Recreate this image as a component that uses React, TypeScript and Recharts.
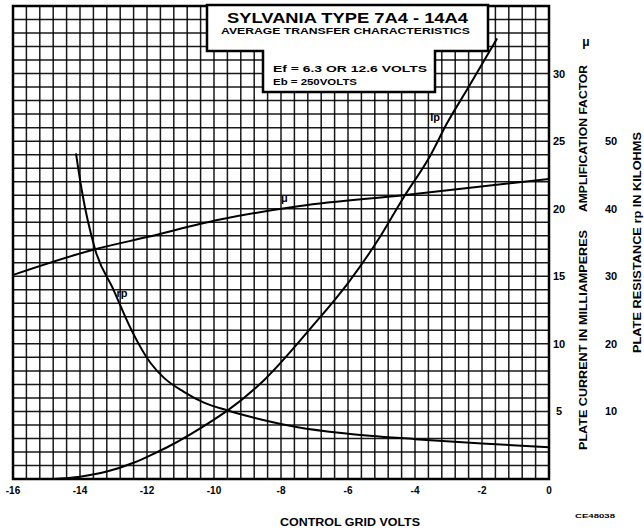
import React from 'react';
import { ComposedChart, Line, XAxis, YAxis, CartesianGrid, ReferenceArea, ReferenceDot } from 'recharts';

// grid positions (every 0.4 V and every 1 mA)
const gridVolts = Array.from({ length: 41 }, (_, i) => Math.round((-16 + 0.4 * i) * 10) / 10);
const gridMa = Array.from({ length: 36 }, (_, i) => i);

// tick labels
const voltLabels = [-16, -14, -12, -10, -8, -6, -4, -2, 0];
const maLabels = [5, 10, 15, 20, 25, 30];
const rpLabels = [10, 20, 30, 40, 50];

// plate current Ip (mA) vs grid volts
const ipVolts = [-14.8, -14.0, -13.2, -12.4, -11.9, -11.4, -10.0, -9.6, -8.5, -7.1, -6.0, -5.1, -4.35, -3.55, -3.05, -2.4, -1.55];
const ipValues = [0, 0.17, 0.55, 1.2, 1.75, 2.35, 4.4, 5.06, 7.33, 11.2, 14.5, 17.7, 20.8, 23.9, 26.3, 29.0, 32.6];

// plate resistance rp (kilohms) vs grid volts
const rpVolts = [-14.12, -13.95, -13.55, -13.0, -12.46, -11.9, -11.5, -10.9, -10.3, -9.64, -8.5, -7.5, -6.0, -4.0, -2.0, 0];
const rpValues = [48.2, 42.8, 34.0, 28.0, 22.0, 17.2, 15.0, 12.9, 11.3, 10.2, 8.7, 7.66, 6.7, 5.9, 5.24, 4.7];

// amplification factor mu vs grid volts
const muVolts = [-16, -13.55, -12, -9.82, -7.43, -4.35, 0];
const muValues = [15.1, 17.0, 17.9, 19.2, 20.2, 21.0, 22.2];

const ipData = ipVolts.map((v, i) => ({ v, y: ipValues[i] }));
const rpData = rpVolts.map((v, i) => ({ v, y: rpValues[i] }));
const muData = muVolts.map((v, i) => ({ v, y: muValues[i] }));

const FONT = '"Liberation Sans", Arial, sans-serif';

const XTick = (props: any) => {
  const { x, y, payload } = props;
  const val = payload.value;
  if (!voltLabels.some((l) => Math.abs(l - val) < 1e-6)) return <g />;
  return (
    <text x={x} y={y + 15} textAnchor="middle" fontSize={10} fontWeight="bold" fontFamily={FONT} fill="#000">
      {String(Math.round(val))}
    </text>
  );
};

const MaTick = (props: any) => {
  const { x, y, payload } = props;
  const val = payload.value;
  if (!maLabels.includes(Math.round(val)) || Math.abs(val - Math.round(val)) > 1e-6) return <g />;
  return (
    <text x={x + 10} y={y + 4} textAnchor="middle" fontSize={11} fontWeight="bold" fontFamily={FONT} fill="#000">
      {String(val)}
    </text>
  );
};

const RpTick = (props: any) => {
  const { x, y, payload } = props;
  return (
    <text x={x + 12} y={y + 4} textAnchor="middle" fontSize={11} fontWeight="bold" fontFamily={FONT} fill="#000">
      {String(payload.value)}
    </text>
  );
};

const CurveLabel = (text: string) => (props: any) => {
  const vb = props.viewBox || {};
  const cx = vb.x + (vb.width || 0) / 2;
  const cy = vb.y + (vb.height || 0) / 2;
  return (
    <text x={cx} y={cy + 4} textAnchor="middle" fontSize={11} fontWeight="bold" fontFamily={FONT} fill="#000">
      {text}
    </text>
  );
};

export default function App() {
  return (
    <div style={{ position: 'absolute', left: 0, top: 0, width: 644, height: 531, background: '#fff' }}>
      <ComposedChart width={644} height={531} margin={{ top: 6, right: 12, bottom: 22, left: 13 }}>
        <CartesianGrid yAxisId="ip" stroke="#000" strokeWidth={1.5} strokeOpacity={0.9} />
        <XAxis
          dataKey="v"
          type="number"
          domain={[-16, 0]}
          ticks={gridVolts}
          interval={0}
          allowDataOverflow
          tick={<XTick />}
          tickLine={false}
          axisLine={false}
          tickSize={0}
          tickMargin={0}
          height={30}
        />
        <YAxis
          yAxisId="ip"
          orientation="right"
          type="number"
          domain={[0, 35]}
          ticks={gridMa}
          interval={0}
          allowDataOverflow
          tick={<MaTick />}
          tickLine={false}
          axisLine={false}
          tickSize={0}
          tickMargin={0}
          width={50}
        />
        <YAxis
          yAxisId="rp"
          orientation="right"
          type="number"
          domain={[0, 70]}
          ticks={rpLabels}
          interval={0}
          allowDataOverflow
          tick={<RpTick />}
          tickLine={false}
          axisLine={false}
          tickSize={0}
          tickMargin={0}
          width={33}
        />
        <ReferenceArea yAxisId="ip" x1={-16} x2={0} y1={0} y2={35} fill="none" stroke="#000" strokeWidth={2.5} />
        <Line data={muData} dataKey="y" yAxisId="ip" type="monotone" stroke="#000" strokeWidth={2} dot={false} isAnimationActive={false} />
        <Line data={ipData} dataKey="y" yAxisId="ip" type="monotone" stroke="#000" strokeWidth={2} dot={false} isAnimationActive={false} />
        <Line data={rpData} dataKey="y" yAxisId="rp" type="monotone" stroke="#000" strokeWidth={2} dot={false} isAnimationActive={false} />
        <ReferenceDot yAxisId="ip" x={-7.9} y={20.8} r={0} stroke="none" fill="none" label={CurveLabel('μ')} />
        <ReferenceDot yAxisId="ip" x={-3.4} y={26.8} r={0} stroke="none" fill="none" label={CurveLabel('Ip')} />
        <ReferenceDot yAxisId="ip" x={-12.75} y={13.8} r={0} stroke="none" fill="none" label={CurveLabel('rp')} />
      </ComposedChart>
      <svg width={644} height={531} style={{ position: 'absolute', left: 0, top: 0, pointerEvents: 'none' }}>
        <polygon points="207,5 488,5 488,51 435,51 435,92 263,92 263,51 207,51" fill="#fff" stroke="#000" strokeWidth={2.5} />
        <g fontFamily={FONT} fontWeight="bold" fill="#000">
          <text x={227} y={23} fontSize={14} textLength={241} lengthAdjust="spacingAndGlyphs">SYLVANIA  TYPE  7A4 - 14A4</text>
          <text x={221} y={34} fontSize={8.5} textLength={249} lengthAdjust="spacingAndGlyphs">AVERAGE TRANSFER CHARACTERISTICS</text>
          <text x={273} y={72} fontSize={9.5} textLength={154} lengthAdjust="spacingAndGlyphs">Ef = 6.3 OR 12.6 VOLTS</text>
          <text x={273} y={85} fontSize={9.5} textLength={84} lengthAdjust="spacingAndGlyphs">Eb = 250VOLTS</text>
          <text transform="translate(587,450) rotate(-90)" x={0} y={0} fontSize={10} textLength={220} lengthAdjust="spacingAndGlyphs">PLATE CURRENT IN MILLIAMPERES</text>
          <text transform="translate(587,212) rotate(-90)" x={0} y={0} fontSize={10} textLength={147} lengthAdjust="spacingAndGlyphs">AMPLIFICATION FACTOR</text>
          <text x={586} y={46} fontSize={12} textAnchor="middle">μ</text>
          <text transform="translate(641,353) rotate(-90)" x={0} y={0} fontSize={10} textLength={221} lengthAdjust="spacingAndGlyphs">PLATE RESISTANCE rp IN KILOHMS</text>
          <text x={280} y={526} fontSize={10} textLength={140} lengthAdjust="spacingAndGlyphs">CONTROL GRID VOLTS</text>
          <text x={575} y={518} fontSize={6} textLength={40} lengthAdjust="spacingAndGlyphs">CE48038</text>
        </g>
      </svg>
    </div>
  );
}
